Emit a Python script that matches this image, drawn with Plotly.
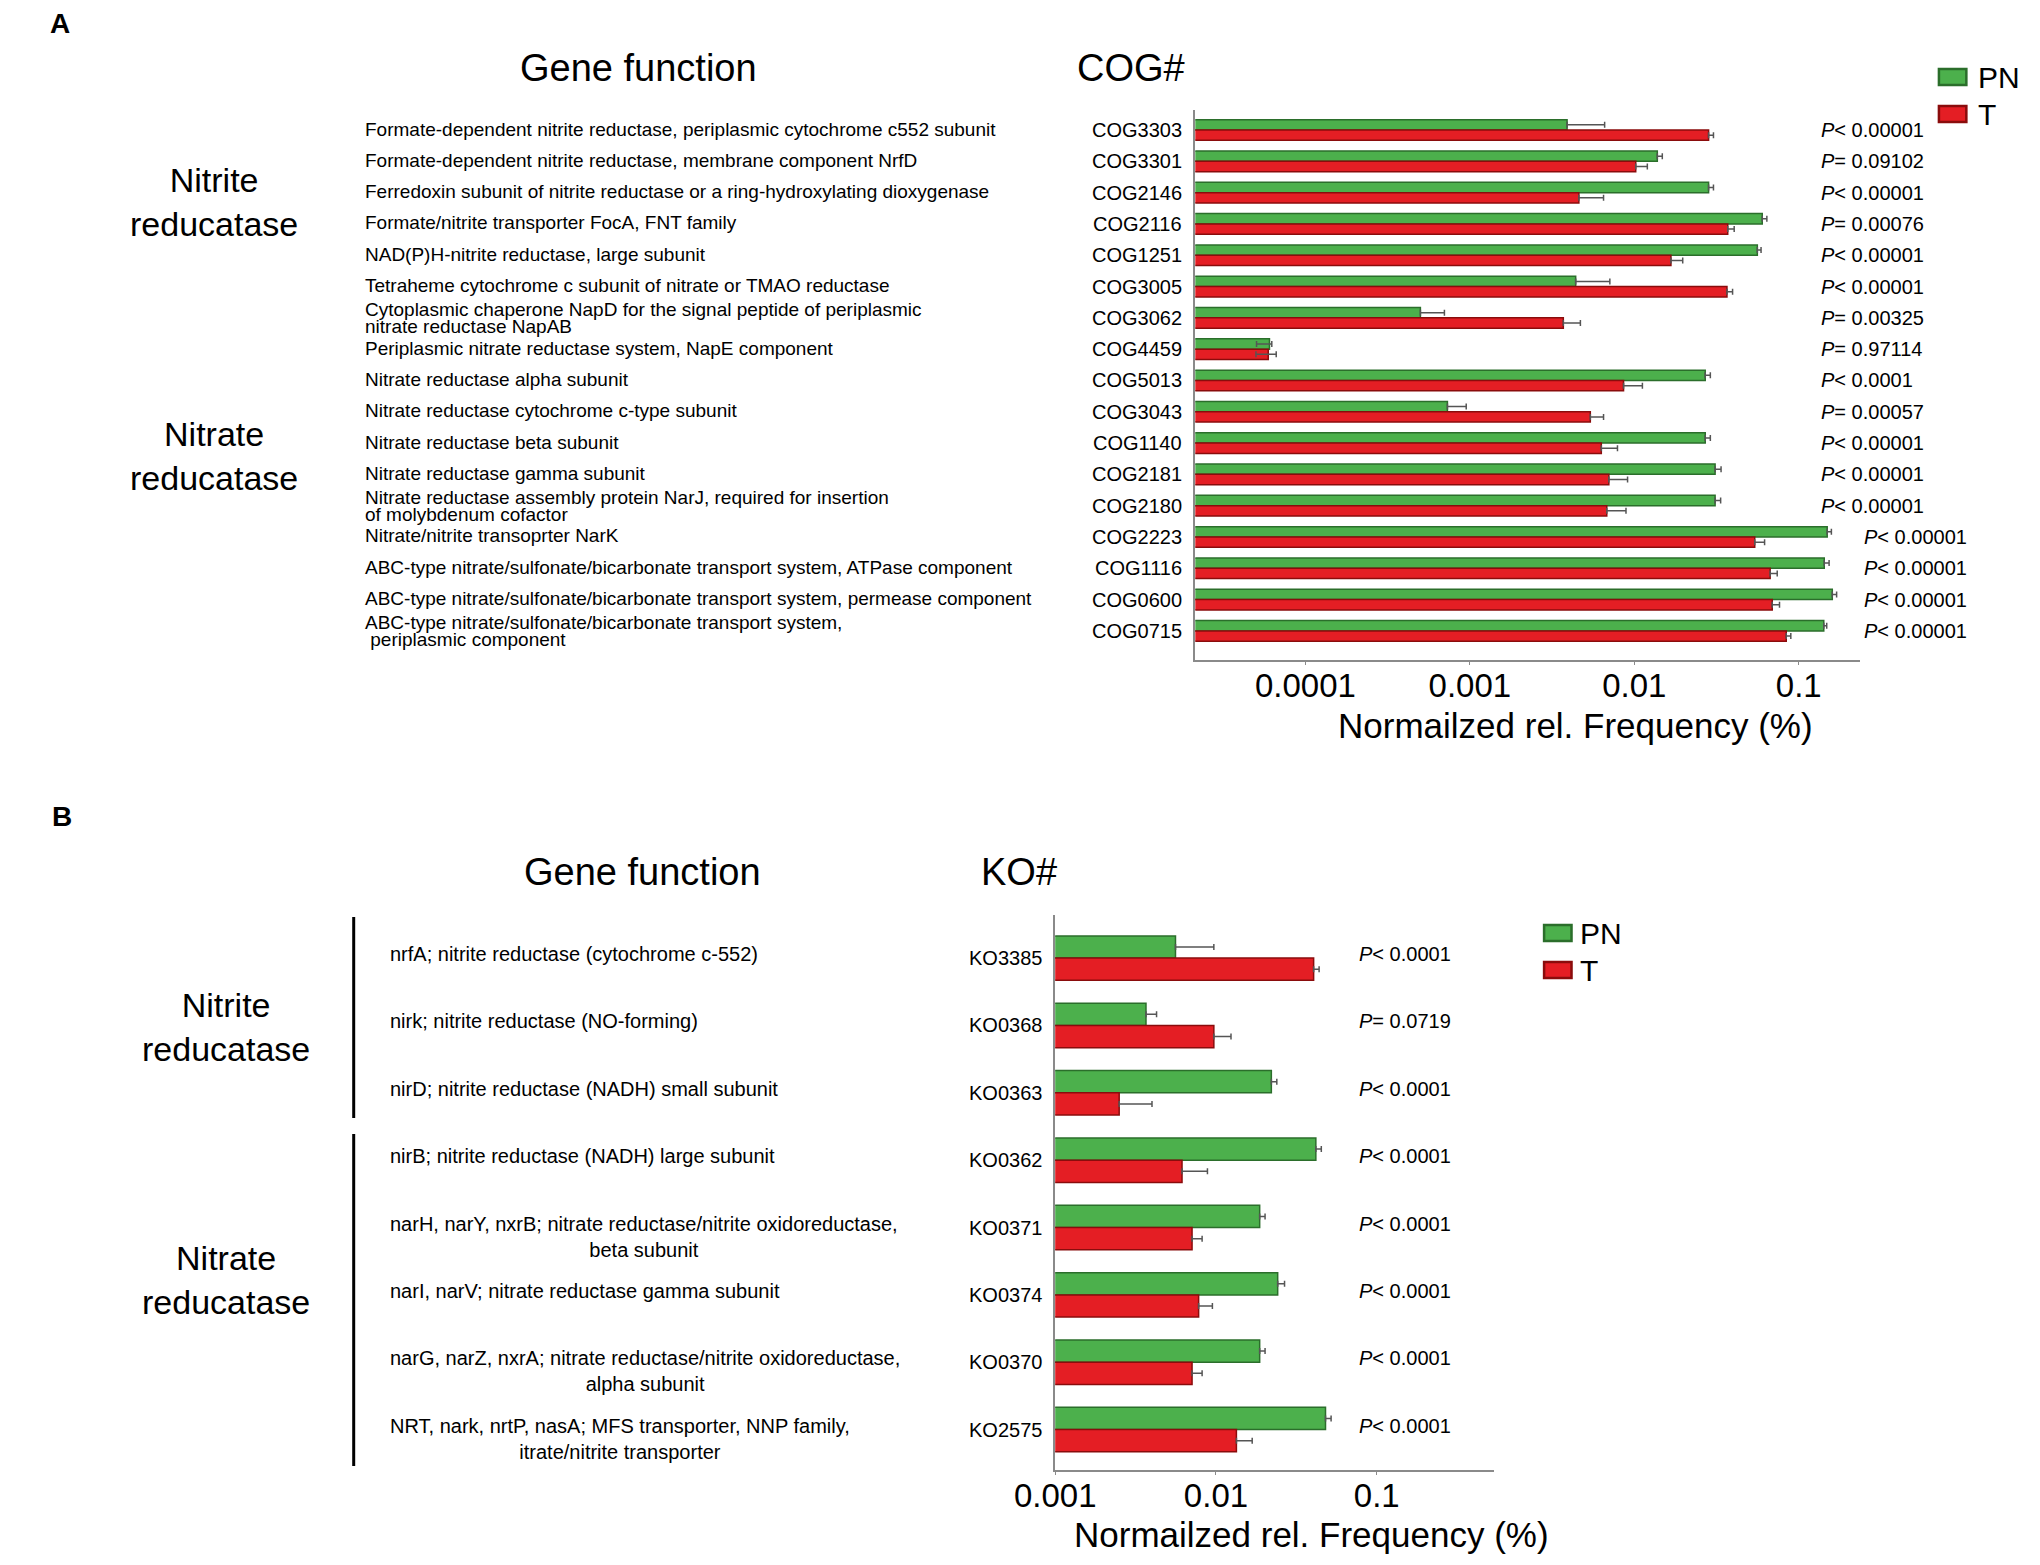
import plotly.graph_objects as go

# ---- panel A: COG ----
cog_ids = ["COG3303", "COG3301", "COG2146", "COG2116", "COG1251", "COG3005",
           "COG3062", "COG4459", "COG5013", "COG3043", "COG1140", "COG2181",
           "COG2180", "COG2223", "COG1116", "COG0600", "COG0715"]
cog_functions = [
    "Formate-dependent nitrite reductase, periplasmic cytochrome c552 subunit",
    "Formate-dependent nitrite reductase, membrane component NrfD",
    "Ferredoxin subunit of nitrite reductase or a ring-hydroxylating dioxygenase",
    "Formate/nitrite transporter FocA, FNT family",
    "NAD(P)H-nitrite reductase, large subunit",
    "Tetraheme cytochrome c subunit of nitrate or TMAO reductase",
    "Cytoplasmic chaperone NapD for the signal peptide of periplasmic\nnitrate reductase NapAB",
    "Periplasmic nitrate reductase system, NapE component",
    "Nitrate reductase alpha subunit",
    "Nitrate reductase cytochrome c-type subunit",
    "Nitrate reductase beta subunit",
    "Nitrate reductase gamma subunit",
    "Nitrate reductase assembly protein NarJ, required for insertion\nof molybdenum cofactor",
    "Nitrate/nitrite transoprter NarK",
    "ABC-type nitrate/sulfonate/bicarbonate transport system, ATPase component",
    "ABC-type nitrate/sulfonate/bicarbonate transport system, permease component",
    "ABC-type nitrate/sulfonate/bicarbonate transport system,\n periplasmic component",
]
cog_pn = [0.0039, 0.0138, 0.0283, 0.060, 0.056, 0.0044, 0.0005, 0.0000604,
          0.027, 0.00073, 0.027, 0.031, 0.031, 0.149, 0.143, 0.160, 0.142]
cog_pn_err = [0.0027, 0.001, 0.002, 0.004, 0.003, 0.0027, 0.0002, 0.000002,
              0.002, 0.00022, 0.002, 0.0027, 0.0025, 0.009, 0.01, 0.01, 0.006]
cog_pn_err_minus = [0, 0, 0, 0, 0, 0, 0, 0.00001, 0, 0, 0, 0, 0, 0, 0, 0, 0]
cog_t = [0.0283, 0.0102, 0.0046, 0.037, 0.0167, 0.0366, 0.0037, 0.0000594,
         0.0086, 0.0054, 0.0063, 0.0070, 0.0068, 0.054, 0.067, 0.069, 0.084]
cog_t_err = [0.002, 0.0018, 0.0019, 0.0035, 0.003, 0.003, 0.001, 0.000007,
             0.0026, 0.0011, 0.0016, 0.0021, 0.0021, 0.008, 0.007, 0.0074, 0.0055]
cog_t_err_minus = [0, 0, 0, 0, 0, 0, 0, 0.0000094, 0, 0, 0, 0, 0, 0, 0, 0, 0]
cog_p = ["< 0.00001", "= 0.09102", "< 0.00001", "= 0.00076", "< 0.00001",
         "< 0.00001", "= 0.00325", "= 0.97114", "< 0.0001", "= 0.00057",
         "< 0.00001", "< 0.00001", "< 0.00001", "< 0.00001", "< 0.00001",
         "< 0.00001", "< 0.00001"]
cog_ticks = [0.0001, 0.001, 0.01, 0.1]
cog_ticktext = ["0.0001", "0.001", "0.01", "0.1"]

# ---- panel B: KO ----
ko_ids = ["KO3385", "KO0368", "KO0363", "KO0362", "KO0371", "KO0374", "KO0370", "KO2575"]
ko_functions = [
    "nrfA; nitrite reductase (cytochrome c-552)",
    "nirk; nitrite reductase (NO-forming)",
    "nirD; nitrite reductase (NADH) small subunit",
    "nirB; nitrite reductase (NADH) large subunit",
    "narH, narY, nxrB; nitrate reductase/nitrite oxidoreductase,\nbeta subunit",
    "narI, narV; nitrate reductase gamma subunit",
    "narG, narZ, nxrA; nitrate reductase/nitrite oxidoreductase,\nalpha subunit",
    "NRT, nark, nrtP, nasA; MFS transporter, NNP family,\nitrate/nitrite transporter",
]
ko_pn = [0.0056, 0.00367, 0.0221, 0.0418, 0.0187, 0.0242, 0.0187, 0.048]
ko_pn_err = [0.0041, 0.0006, 0.0018, 0.0034, 0.0015, 0.0025, 0.0015, 0.004]
ko_t = [0.0405, 0.0097, 0.0025, 0.00615, 0.0071, 0.0078, 0.0071, 0.0134]
ko_t_err = [0.0033, 0.0027, 0.0015, 0.0027, 0.0011, 0.0017, 0.0011, 0.0034]
ko_p = ["< 0.0001", "= 0.0719", "< 0.0001", "< 0.0001", "< 0.0001",
        "< 0.0001", "< 0.0001", "< 0.0001"]
ko_ticks = [0.001, 0.01, 0.1]
ko_ticktext = ["0.001", "0.01", "0.1"]

groups_a = ["Nitrite\nreducatase", "Nitrate\nreducatase"]
groups_b = ["Nitrite\nreducatase", "Nitrate\nreducatase"]
series = ["PN", "T"]

GREEN, GREEN_EDGE = "#4cb04c", "#2b6e2b"
RED, RED_EDGE = "#e41e24", "#8a0c0c"
FONT = "Liberation Sans, Arial, sans-serif"

# the page body has an 8px margin, so map reference pixels into the figure
W, H, OFF = 2024, 1549, 8


def fx(X):
    return (X - OFF) / W


def fy(Y):
    return 1 - (Y - OFF) / H


fig = go.Figure()

rows_a = list(range(len(cog_ids)))
rows_b = list(range(len(ko_ids)))

err_style = dict(type="data", symmetric=False, color="#555555", thickness=1.5, width=3)

fig.add_trace(go.Bar(
    y=rows_a, x=cog_pn, orientation="h", name="PN", xaxis="x", yaxis="y",
    marker=dict(color=GREEN, line=dict(color=GREEN_EDGE, width=1.5)),
    error_x=dict(array=cog_pn_err, arrayminus=cog_pn_err_minus, **err_style),
    showlegend=False))
fig.add_trace(go.Bar(
    y=rows_a, x=cog_t, orientation="h", name="T", xaxis="x", yaxis="y",
    marker=dict(color=RED, line=dict(color=RED_EDGE, width=1.5)),
    error_x=dict(array=cog_t_err, arrayminus=cog_t_err_minus, **err_style),
    showlegend=False))
fig.add_trace(go.Bar(
    y=rows_b, x=ko_pn, orientation="h", name="PN", xaxis="x2", yaxis="y2",
    marker=dict(color=GREEN, line=dict(color=GREEN_EDGE, width=1.5)),
    error_x=dict(array=ko_pn_err, arrayminus=[0] * len(ko_pn), **err_style),
    showlegend=False))
fig.add_trace(go.Bar(
    y=rows_b, x=ko_t, orientation="h", name="T", xaxis="x2", yaxis="y2",
    marker=dict(color=RED, line=dict(color=RED_EDGE, width=1.5)),
    error_x=dict(array=ko_t_err, arrayminus=[0] * len(ko_t), **err_style),
    showlegend=False))

axis_common = dict(showgrid=False, zeroline=False, showline=True,
                   linecolor="#8a8a8a", linewidth=2)

ann = []


def text(x, y, s, size, xref="paper", yref="paper", xanchor="center",
         yanchor="middle", align="left", yshift=0, bold=False):
    if bold:
        s = "<b>" + s + "</b>"
    ann.append(dict(x=x, y=y, xref=xref, yref=yref, text=s, showarrow=False,
                    xanchor=xanchor, yanchor=yanchor, align=align, yshift=yshift,
                    font=dict(family=FONT, size=size, color="black")))


def p_text(s):
    return "<i>P</i>" + s.replace("<", "&lt;")


# panel letters and headers
text(fx(19), fy(23), "A", 28, bold=True)
text(fx(21), fy(816), "B", 28, bold=True)
text(fx(610), fy(68), "Gene function", 38)
text(fx(1112), fy(68), "COG#", 38)
text(fx(614), fy(872), "Gene function", 38)
text(fx(998), fy(872), "KO#", 38)

# group labels
for label, yc in zip(groups_a, [202, 456]):
    text(fx(176), fy(yc), label.replace("\n", "<br>"), 34, align="center")
for label, yc in zip(groups_b, [1027, 1280]):
    text(fx(189), fy(yc), label.replace("\n", "<br>"), 34, align="center")

# panel A row labels (two-line labels are set line by line, tightly)
for i, (fn, cid, p) in enumerate(zip(cog_functions, cog_ids, cog_p)):
    lines = fn.split("\n")
    if len(lines) == 1:
        text(fx(328), i, lines[0], 19, yref="y", xanchor="left", yshift=1)
    else:
        text(fx(328), i, lines[0], 19, yref="y", xanchor="left", yshift=8)
        text(fx(328), i, lines[1], 19, yref="y", xanchor="left", yshift=-9)
    text(fx(1166), i, cid, 20, yref="y", xanchor="right")
    px = 1858 if max(cog_pn[i], cog_t[i]) > 0.1 else 1815
    text(fx(px), i, p_text(p), 20, yref="y", xanchor="left")

# panel B row labels
for i, (fn, kid, p) in enumerate(zip(ko_functions, ko_ids, ko_p)):
    two = "\n" in fn
    text(fx(354), i, fn.replace("\n", "<br>"), 20, yref="y2", xanchor="left",
         align="center", yshift=-9 if two else 4)
    text(fx(1024), i, kid, 20, yref="y2", xanchor="right")
    text(fx(1343), i, p_text(p), 20, yref="y2", xanchor="left", yshift=4)

# axis titles
text(fx(1566), fy(725), "Normailzed rel. Frequency (%)", 35)
text(fx(1297), fy(1534), "Normailzed rel. Frequency (%)", 35)

# hand-drawn legends
shapes = []
for (sx, sy0, tx) in [(1937, 77, 1975), (1534, 933, 1569)]:
    for k, (name, col, edge) in enumerate(zip(series, [GREEN, RED], [GREEN_EDGE, RED_EDGE])):
        yc = sy0 + 37 * k
        shapes.append(dict(type="rect", xref="paper", yref="paper",
                           x0=fx(sx), x1=fx(sx + 28), y0=fy(yc + 8), y1=fy(yc - 8),
                           fillcolor=col, line=dict(color=edge, width=2.5)))
        text(fx(tx), fy(yc), name, 30, xanchor="left")

# bracket lines in panel B
for y0, y1 in [(917, 1118), (1134, 1466)]:
    shapes.append(dict(type="line", xref="paper", yref="paper",
                       x0=fx(319), x1=fx(319), y0=fy(y0), y1=fy(y1),
                       line=dict(color="black", width=3)))

fig.update_layout(
    width=W, height=H,
    margin=dict(l=0, r=0, t=0, b=0),
    paper_bgcolor="white", plot_bgcolor="white",
    barmode="group", bargap=0.34, bargroupgap=0,
    font=dict(family=FONT, color="black"),
    xaxis=dict(type="log", range=[-4.67, -0.63], domain=[fx(1178), fx(1856)],
               anchor="y", tickvals=cog_ticks, ticktext=cog_ticktext,
               ticks="outside", ticklen=3, tickcolor="#8a8a8a",
               ticklabelstandoff=-8,
               tickfont=dict(size=33, family=FONT), **axis_common),
    yaxis=dict(range=[16.93, -0.64], domain=[fy(660), fy(110)], anchor="x",
               showticklabels=False, ticks="", **axis_common),
    xaxis2=dict(type="log", range=[-3, -0.27], domain=[fx(1035), fx(1483)],
                anchor="y2", tickvals=ko_ticks, ticktext=ko_ticktext,
                ticks="outside", ticklen=3, tickcolor="#8a8a8a",
                ticklabelstandoff=-8,
                tickfont=dict(size=33, family=FONT), **axis_common),
    yaxis2=dict(range=[7.6, -0.64], domain=[fy(1470), fy(915)], anchor="x2",
                showticklabels=False, ticks="", **axis_common),
    annotations=ann,
    shapes=shapes,
)

fig.write_html("out.html")
